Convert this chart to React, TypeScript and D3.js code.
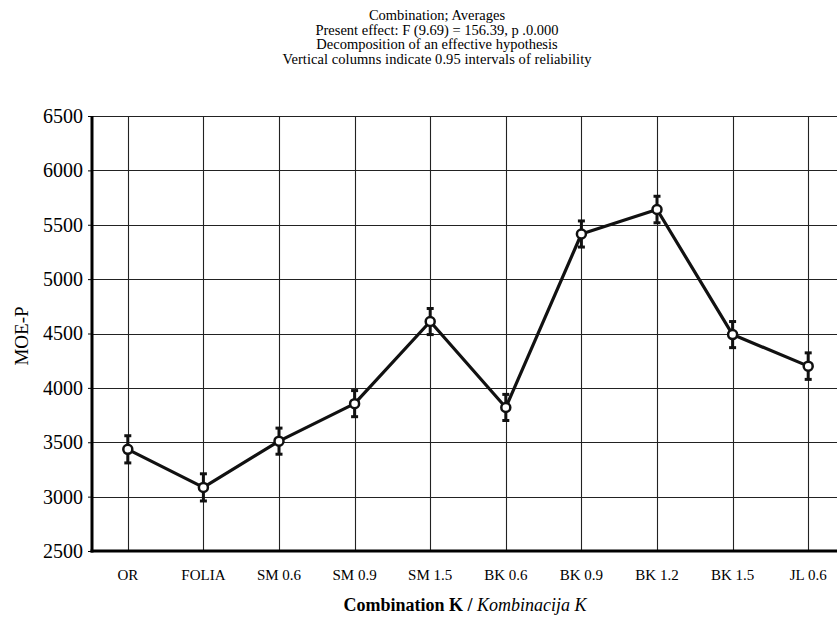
import React, { useRef, useEffect } from "react";
import * as d3 from "d3";

const categories = ["OR", "FOLIA", "SM 0.6", "SM 0.9", "SM 1.5", "BK 0.6", "BK 0.9", "BK 1.2", "BK 1.5", "JL 0.6"];
const means = [3435, 3085, 3510, 3855, 4610, 3820, 5415, 5640, 4490, 4200];
const ciHalf = [125, 125, 120, 120, 120, 120, 120, 122, 120, 122];
const yTicks = [2500, 3000, 3500, 4000, 4500, 5000, 5500, 6000, 6500];
const titleLines = [
  "Combination; Averages",
  "Present effect: F (9.69) = 156.39, p .0.000",
  "Decomposition of an effective hypothesis",
  "Vertical columns indicate 0.95 intervals of reliability",
];

const App = () => {
  const svgRef = useRef<SVGSVGElement>(null);
  const width = 837;
  const height = 621;

  useEffect(() => {
    const svg = d3.select(svgRef.current);
    svg.selectAll("*").remove();
    const font = "'Liberation Serif', 'Times New Roman', serif";
    const margin = { top: 116, left: 92, bottom: 551 };

    const x = d3
      .scaleBand()
      .domain(categories)
      .range([margin.left - 2, margin.left - 2 + 75.6 * categories.length]);
    const cx = (d: string) => (x(d) as number) + x.bandwidth() / 2;

    const y = d3.scaleLinear().domain([2500, 6500]).range([margin.bottom, margin.top]);

    // title
    svg
      .append("g")
      .selectAll("text")
      .data(titleLines)
      .join("text")
      .attr("x", 437)
      .attr("y", (d, i) => 20 + i * 14.5)
      .attr("text-anchor", "middle")
      .attr("font-family", font)
      .attr("font-size", 14.5)
      .attr("textLength", (d, i) => [null, null, null, 309][i])
      .text((d) => d);

    // grid
    const grid = svg.append("g").attr("stroke", "#222").attr("stroke-width", 1.1);
    grid
      .selectAll("line.h")
      .data(yTicks.filter((d) => d > 2500))
      .join("line")
      .attr("class", "h")
      .attr("x1", margin.left)
      .attr("x2", width)
      .attr("y1", (d) => Math.round(y(d)) + 0.5)
      .attr("y2", (d) => Math.round(y(d)) + 0.5);
    grid
      .selectAll("line.v")
      .data(categories)
      .join("line")
      .attr("class", "v")
      .attr("x1", (d) => Math.round(cx(d)) + 0.5)
      .attr("x2", (d) => Math.round(cx(d)) + 0.5)
      .attr("y1", margin.top)
      .attr("y2", margin.bottom);

    // y axis
    const yAxis = svg
      .append("g")
      .attr("transform", `translate(${margin.left},0)`)
      .call(d3.axisLeft(y).tickValues(yTicks).tickSize(4).tickFormat(d3.format("d")));
    yAxis.select(".domain").remove();
    yAxis.selectAll("line").attr("stroke", "#000");
    yAxis
      .selectAll("text")
      .attr("font-family", font)
      .attr("font-size", 20)
      .attr("fill", "#000")
      .attr("x", -9);

    svg
      .append("line")
      .attr("x1", margin.left)
      .attr("x2", margin.left)
      .attr("y1", margin.top)
      .attr("y2", margin.bottom + 1.5)
      .attr("stroke", "#000")
      .attr("stroke-width", 3);
    svg
      .append("line")
      .attr("x1", margin.left - 1.5)
      .attr("x2", width)
      .attr("y1", margin.bottom)
      .attr("y2", margin.bottom)
      .attr("stroke", "#000")
      .attr("stroke-width", 3);

    // x labels
    svg
      .append("g")
      .selectAll("text")
      .data(categories)
      .join("text")
      .attr("x", (d) => cx(d))
      .attr("y", 580)
      .attr("text-anchor", "middle")
      .attr("font-family", font)
      .attr("font-size", 15)
      .text((d) => d);

    // axis titles
    const xt = svg
      .append("text")
      .attr("x", 465)
      .attr("y", 611)
      .attr("text-anchor", "middle")
      .attr("font-family", font)
      .attr("font-size", 18);
    xt.append("tspan").attr("font-weight", "bold").text("Combination K / ");
    xt.append("tspan").attr("font-style", "italic").text("Kombinacija K");

    svg
      .append("text")
      .attr("transform", `translate(28,336) rotate(-90)`)
      .attr("text-anchor", "middle")
      .attr("font-family", font)
      .attr("font-size", 19)
      .text("MOE-P");

    // line
    const line = d3
      .line<number>()
      .x((d, i) => cx(categories[i]))
      .y((d) => y(d));
    svg
      .append("path")
      .datum(means)
      .attr("fill", "none")
      .attr("stroke", "#111")
      .attr("stroke-width", 3.2)
      .attr("stroke-linejoin", "round")
      .attr("d", line);

    // error bars
    const eb = svg.append("g").attr("stroke", "#111").attr("stroke-width", 3);
    means.forEach((m, i) => {
      const px = cx(categories[i]);
      const g = eb.append("g");
      g.append("line").attr("x1", px).attr("x2", px).attr("y1", y(m + ciHalf[i])).attr("y2", y(m - ciHalf[i]));
      [m + ciHalf[i], m - ciHalf[i]].forEach((v) =>
        g
          .append("line")
          .attr("x1", px - 3.5)
          .attr("x2", px + 3.5)
          .attr("y1", y(v))
          .attr("y2", y(v))
      );
    });

    svg
      .append("g")
      .selectAll("circle")
      .data(means)
      .join("circle")
      .attr("cx", (d, i) => cx(categories[i]))
      .attr("cy", (d) => y(d))
      .attr("r", 4.5)
      .attr("fill", "#fff")
      .attr("stroke", "#111")
      .attr("stroke-width", 2.5);
  }, []);

  return (
    <svg
      ref={svgRef}
      width={width}
      height={height}
      style={{ position: "absolute", left: 0, top: 0, background: "#fff" }}
    ></svg>
  );
};

export default App;
